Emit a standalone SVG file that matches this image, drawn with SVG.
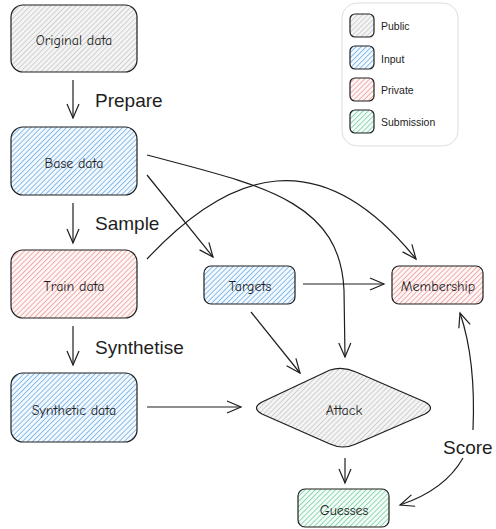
<svg xmlns="http://www.w3.org/2000/svg" width="496" height="529" viewBox="0 0 496 529">
<style>
.node{stroke:#1e1e1e;stroke-width:1.2}
.lbl{font-family:"Comic Neue","Liberation Sans",sans-serif;font-size:14px;fill:#1e1e1e;text-anchor:middle;dominant-baseline:central}
.elbl{font-family:"Liberation Sans",sans-serif;font-size:19px;fill:#1e1e1e}
.leg{font-family:"Liberation Sans",sans-serif;font-size:10.5px;fill:#1e1e1e;dominant-baseline:central}
.edge{fill:none;stroke:#1e1e1e;stroke-width:1.2;marker-end:url(#ah)}
</style>
<defs>
<pattern id="pGray" patternUnits="userSpaceOnUse" width="3.6" height="3.6" patternTransform="rotate(45)">
<rect width="4" height="4" fill="#f4f4f4"/><line x1="0" y1="0" x2="0" y2="4" stroke="#c6c8ca" stroke-width="1.6"/></pattern>
<pattern id="pBlue" patternUnits="userSpaceOnUse" width="3.6" height="3.6" patternTransform="rotate(45)">
<rect width="4" height="4" fill="#f4f9ff"/><line x1="0" y1="0" x2="0" y2="4" stroke="#6fb0e6" stroke-width="1.6"/></pattern>
<pattern id="pRed" patternUnits="userSpaceOnUse" width="3.6" height="3.6" patternTransform="rotate(45)">
<rect width="4" height="4" fill="#fff6f6"/><line x1="0" y1="0" x2="0" y2="4" stroke="#ee9c9c" stroke-width="1.6"/></pattern>
<pattern id="pGreen" patternUnits="userSpaceOnUse" width="3.6" height="3.6" patternTransform="rotate(45)">
<rect width="4" height="4" fill="#f4fcf7"/><line x1="0" y1="0" x2="0" y2="4" stroke="#78cfa6" stroke-width="1.6"/></pattern>
<marker id="ah" markerUnits="userSpaceOnUse" markerWidth="20" markerHeight="20" refX="0" refY="0" viewBox="-16 -10 20 20" orient="auto">
<path d="M-14 -6 L0 0 L-14 6" fill="none" stroke="#1e1e1e" stroke-width="1.2"/></marker>
</defs>

<g id="legend">
<rect x="342" y="3" width="116" height="143" rx="15" fill="#ffffff" stroke="#dcdcdc" stroke-width="1"/>
<rect x="350" y="14" width="24" height="23" rx="5" fill="url(#pGray)" class="node"/>
<text x="381" y="26" class="leg">Public</text>
<rect x="350" y="46" width="24" height="23" rx="5" fill="url(#pBlue)" class="node"/>
<text x="381" y="59" class="leg">Input</text>
<rect x="350" y="78" width="24" height="23" rx="5" fill="url(#pRed)" class="node"/>
<text x="381" y="90" class="leg">Private</text>
<rect x="350" y="110" width="24" height="23" rx="5" fill="url(#pGreen)" class="node"/>
<text x="381" y="122" class="leg">Submission</text>
</g>

<g id="original">
<rect x="11" y="5" width="126" height="67" rx="12" fill="url(#pGray)" class="node"/>
<text x="74" y="40" class="lbl">Original data</text>
</g>
<g id="base">
<rect x="11" y="127" width="126" height="68" rx="12" fill="url(#pBlue)" class="node"/>
<text x="74" y="163" class="lbl">Base data</text>
</g>
<g id="train">
<rect x="11" y="250" width="126" height="68" rx="12" fill="url(#pRed)" class="node"/>
<text x="74" y="286" class="lbl">Train data</text>
</g>
<g id="synthetic">
<rect x="11" y="373" width="126" height="69" rx="12" fill="url(#pBlue)" class="node"/>
<text x="74" y="410" class="lbl">Synthetic data</text>
</g>
<g id="targets">
<rect x="204" y="266" width="91" height="38" rx="7" fill="url(#pBlue)" class="node"/>
<text x="250" y="286" class="lbl">Targets</text>
</g>
<g id="membership">
<rect x="392" y="266" width="91" height="38" rx="7" fill="url(#pRed)" class="node"/>
<text x="438" y="286" class="lbl">Membership</text>
</g>
<g id="attack">
<path d="M330 370 Q343 366 356 372 L425 402 Q436 408 425 414 L356 444 Q343 450 330 444 L262 414 Q251 408 262 402 Z" fill="url(#pGray)" class="node"/>
<text x="344" y="410" class="lbl">Attack</text>
</g>
<g id="guesses">
<rect x="298" y="489" width="91" height="38" rx="7" fill="url(#pGreen)" class="node"/>
<text x="344" y="510" class="lbl">Guesses</text>
</g>

<g id="connectors">
<path class="edge" d="M73 80 L73 118"/>
<path class="edge" d="M73 203 L73 243"/>
<path class="edge" d="M73 326 L73 365"/>
<path class="edge" d="M147 407 L241 407"/>
<path class="edge" d="M147 175 L213 257"/>
<path class="edge" d="M303 284 L384 284"/>
<path class="edge" d="M251 312 L300 373"/>
<path class="edge" d="M147 155 C260 185 340 200 344 290 L345 357"/>
<path class="edge" d="M147 259 C230 170 320 140 416 259"/>
<path class="edge" d="M345 458 L345 483"/>
<path class="edge" d="M473 430 Q476 360 460 313"/>
<path class="edge" d="M463 458 Q445 490 400 505"/>
<text x="95" y="107" class="elbl">Prepare</text>
<text x="95" y="230" class="elbl">Sample</text>
<text x="95" y="354" class="elbl">Synthetise</text>
<text x="443" y="454" class="elbl">Score</text>
</g>
</svg>
